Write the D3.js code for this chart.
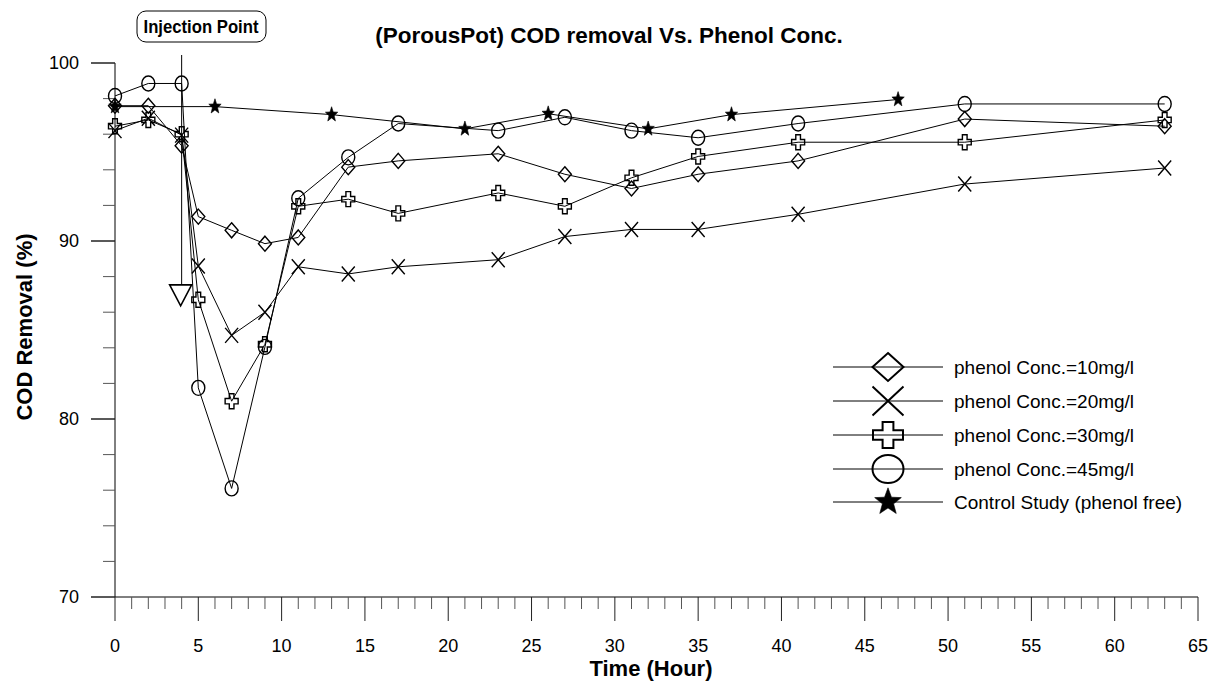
<!DOCTYPE html>
<html>
<head>
<meta charset="utf-8">
<script src="https://cdn.jsdelivr.net/npm/d3@7"></script>
<style>
  body { margin: 0; background: #fff; }
  text { font-family: "Liberation Sans", Arial, sans-serif; }
</style>
</head>
<body>
<svg id="chart" width="1219" height="681"></svg>
<script>
// data
const times = [0, 2, 4, 5, 7, 9, 11, 14, 17, 23, 27, 31, 35, 41, 51, 63];
const phenol10 = [97.6, 97.6, 95.35, 91.37, 90.6, 89.85, 90.2, 94.15, 94.5, 94.9, 93.75, 92.95, 93.75, 94.5, 96.85, 96.45];
const phenol20 = [96.2, 96.9, 95.95, 88.6, 84.7, 86.0, 88.55, 88.15, 88.55, 88.95, 90.25, 90.65, 90.65, 91.5, 93.2, 94.1];
const phenol30 = [96.45, 96.8, 96.0, 86.7, 81.0, 84.2, 91.95, 92.35, 91.55, 92.7, 91.95, 93.55, 94.75, 95.55, 95.55, 96.8];
const phenol45 = [98.15, 98.85, 98.85, 81.75, 76.1, 84.05, 92.4, 94.7, 96.6, 96.2, 96.95, 96.2, 95.8, 96.6, 97.7, 97.7];
const controlTimes = [0, 6, 13, 21, 26, 32, 37, 47];
const controlValues = [97.55, 97.55, 97.1, 96.3, 97.15, 96.3, 97.1, 97.95];

const seriesNames = ['phenol Conc.=10mg/l', 'phenol Conc.=20mg/l', 'phenol Conc.=30mg/l', 'phenol Conc.=45mg/l', 'Control Study (phenol free)'];
const seriesMarkers = ['diamond', 'x', 'cross', 'circle', 'star'];
const xTicks = d3.range(0, 66, 5);
const yTicks = [70, 80, 90, 100];
const injectionTime = 4;
const injectionArrowEnd = 87.2;

const svg = d3.select('#chart');

const x = d3.scaleLinear().domain([0, 65]).range([115, 1198]);
const y = d3.scaleLinear().domain([70, 100]).range([597, 63]);

// marker path builder, w/h are full width and height
function markerPath(type, w, h) {
  const a = w / 2, b = h / 2;
  if (type === 'diamond') return `M0,${-b}L${a},0L0,${b}L${-a},0Z`;
  if (type === 'x') return `M${-a},${-b}L${a},${b}M${a},${-b}L${-a},${b}`;
  if (type === 'cross') {
    const p = a * 0.36, q = b * 0.36;
    return `M${-p},${-b}L${p},${-b}L${p},${-q}L${a},${-q}L${a},${q}L${p},${q}L${p},${b}L${-p},${b}L${-p},${q}L${-a},${q}L${-a},${-q}L${-p},${-q}Z`;
  }
  if (type === 'star') {
    let d = '';
    for (let i = 0; i < 10; i++) {
      const ang = -Math.PI / 2 + i * Math.PI / 5;
      const r = i % 2 === 0 ? 1 : 0.42;
      d += (i === 0 ? 'M' : 'L') + (Math.cos(ang) * r * a) + ',' + (Math.sin(ang) * r * b * 1.05);
    }
    return d + 'Z';
  }
  return null;
}

function appendMarker(parent, type, cx, cy, w, h, sw) {
  if (type === 'circle') {
    return parent.append('ellipse')
      .attr('cx', cx).attr('cy', cy)
      .attr('rx', w / 2).attr('ry', h / 2)
      .style('fill', 'none')
      .style('stroke', '#000')
      .style('stroke-width', sw);
  }
  return parent.append('path')
    .attr('d', markerPath(type, w, h))
    .attr('transform', `translate(${cx},${cy})`)
    .style('fill', type === 'star' ? '#000' : 'none')
    .style('stroke', '#000')
    .style('stroke-width', type === 'star' ? 0.6 : sw)
    .style('stroke-linejoin', 'miter');
}

// axes
const xAxisG = svg.append('g').attr('class', 'x-axis');
xAxisG.append('line')
  .attr('x1', x(0)).attr('x2', x(65))
  .attr('y1', y(70)).attr('y2', y(70))
  .style('stroke', '#000');
d3.range(0, 66, 1).forEach((t) => {
  const major = t % 5 === 0;
  xAxisG.append('line')
    .attr('x1', x(t)).attr('x2', x(t))
    .attr('y1', y(70)).attr('y2', y(70) + (major ? 24 : 12))
    .style('stroke', major ? '#222' : '#555');
});
xAxisG.selectAll('text.tick')
  .data(xTicks)
  .enter()
  .append('text')
  .attr('class', 'tick')
  .attr('x', (d) => x(d))
  .attr('y', 652)
  .attr('text-anchor', 'middle')
  .style('font-size', '18px')
  .text((d) => d);

const yAxisG = svg.append('g').attr('class', 'y-axis');
yAxisG.append('line')
  .attr('x1', x(0)).attr('x2', x(0))
  .attr('y1', y(100)).attr('y2', y(70))
  .style('stroke', '#000');
d3.range(70, 101, 2).concat(yTicks).forEach((v) => {
  const major = v % 10 === 0;
  yAxisG.append('line')
    .attr('x1', x(0) - (major ? 24 : 12)).attr('x2', x(0))
    .attr('y1', y(v)).attr('y2', y(v))
    .style('stroke', major ? '#222' : '#555');
});
yAxisG.selectAll('text.tick')
  .data(yTicks)
  .enter()
  .append('text')
  .attr('class', 'tick')
  .attr('x', 79)
  .attr('y', (d) => y(d))
  .attr('dy', '0.36em')
  .attr('text-anchor', 'end')
  .style('font-size', '18px')
  .text((d) => d);

// axis titles
svg.append('text')
  .attr('x', 651).attr('y', 676)
  .attr('text-anchor', 'middle')
  .style('font-size', '22px').style('font-weight', 'bold')
  .text('Time (Hour)');
svg.append('text')
  .attr('transform', 'translate(32,327) rotate(-90)')
  .attr('text-anchor', 'middle')
  .style('font-size', '22px').style('font-weight', 'bold')
  .text('COD Removal (%)');

svg.append('text')
  .attr('x', 609).attr('y', 43)
  .attr('text-anchor', 'middle')
  .style('font-size', '22.5px').style('font-weight', 'bold')
  .text('(PorousPot) COD removal Vs. Phenol Conc.');

// injection annotation
svg.append('line')
  .attr('x1', x(injectionTime)).attr('x2', x(injectionTime))
  .attr('y1', 55).attr('y2', y(injectionArrowEnd) - 6)
  .style('stroke', '#000');
svg.append('path')
  .attr('d', 'M-11,0L11,0L0,21Z')
  .attr('transform', `translate(${x(injectionTime) - 1},${y(injectionArrowEnd) - 6})`)
  .style('fill', 'none').style('stroke', '#000').style('stroke-width', 1.6);
svg.append('rect')
  .attr('x', 137).attr('y', 11)
  .attr('width', 129).attr('height', 31)
  .attr('rx', 9).attr('ry', 9)
  .style('fill', '#fff').style('stroke', '#000').style('stroke-width', 1);
svg.append('text')
  .attr('x', 201).attr('y', 33)
  .attr('text-anchor', 'middle')
  .attr('textLength', 115).attr('lengthAdjust', 'spacingAndGlyphs')
  .style('font-size', '19px').style('font-weight', 'bold')
  .text('Injection Point');

// series
const seriesData = [
  times.map((t, i) => [t, phenol10[i]]),
  times.map((t, i) => [t, phenol20[i]]),
  times.map((t, i) => [t, phenol30[i]]),
  times.map((t, i) => [t, phenol45[i]]),
  controlTimes.map((t, i) => [t, controlValues[i]])
];

const line = d3.line()
  .x((d) => x(d[0]))
  .y((d) => y(d[1]));

const plot = svg.append('g').attr('class', 'plot');
seriesData.forEach((data) => {
  plot.append('path')
    .attr('d', line(data))
    .style('fill', 'none')
    .style('stroke', '#000')
    .style('stroke-width', 1);
});
seriesData.forEach((data, k) => {
  data.forEach((d) => {
    appendMarker(plot, seriesMarkers[k], x(d[0]), y(d[1]), 13, 15, 1.4);
  });
});

// legend
const legend = svg.append('g').attr('class', 'legend');
const legendRows = [367, 401, 435, 469, 502];
seriesNames.forEach((name, k) => {
  const ly = legendRows[k];
  legend.append('line')
    .attr('x1', 833).attr('x2', 943)
    .attr('y1', ly).attr('y2', ly)
    .style('stroke', '#000');
  const sizes = [[31, 28], [31, 29], [30, 26], [31, 28], [28, 27]];
  appendMarker(legend, seriesMarkers[k], 888, ly, sizes[k][0], sizes[k][1], 2);
  legend.append('text')
    .attr('x', 954).attr('y', ly)
    .attr('dy', '0.36em')
    .style('font-size', '19px')
    .text(name);
});
</script>
</body>
</html>
